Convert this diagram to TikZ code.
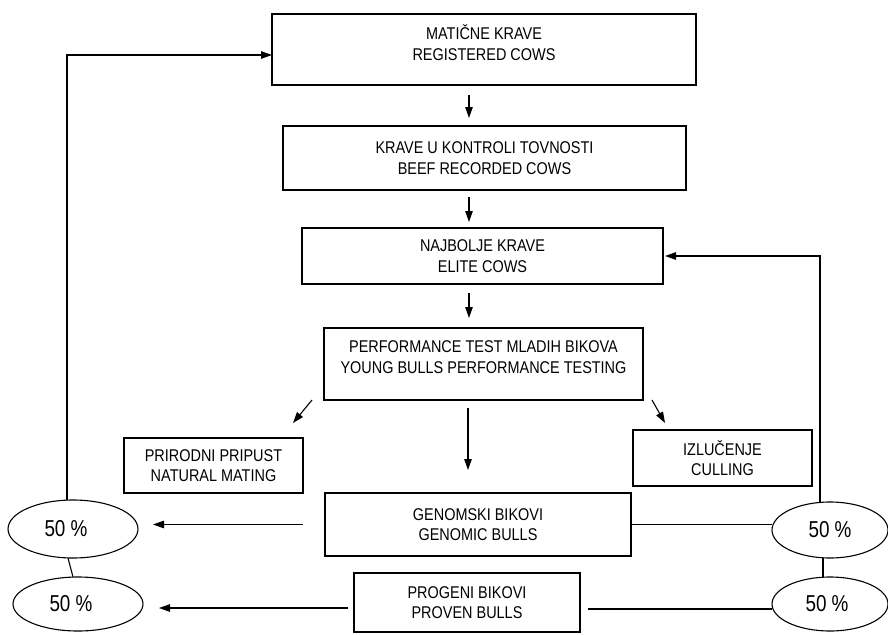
\documentclass[tikz,border=0pt]{standalone}
\usepackage{fontspec}
\setmainfont{Liberation Sans}[FakeStretch=0.85]
\newfontfamily\pctfont{Liberation Sans}[FakeStretch=0.82]
\usetikzlibrary{shapes.geometric,arrows.meta}
\begin{document}
\begin{tikzpicture}[x=1pt,y=-1pt,
  every node/.style={inner sep=0pt, outer sep=0pt},
  box/.style={draw, line width=1.1pt, align=center,
    font=\fontsize{17}{20.5}\selectfont},
  boxtext/.style={align=center, font=\fontsize{17}{20.5}\selectfont},
  share/.style={draw, ellipse, line width=1.1pt,
    font=\pctfont\fontsize{23}{26}\selectfont},
  link/.style={line width=1.1pt},
  arr/.style={line width=1.1pt, -{Triangle[length=11pt,width=7.5pt]}}]
\useasboundingbox (0,0) rectangle (888,634);

% main chain of boxes
\node[box, minimum width=424, minimum height=71] (b1) at (484,49.5) {};
\node[boxtext] (b1t) at (484,42.5) {MATIČNE KRAVE\\REGISTERED COWS};
\node[box, minimum width=403, minimum height=64] (b2) at (484.5,158) {KRAVE U KONTROLI TOVNOSTI\\BEEF RECORDED COWS};
\node[box, minimum width=361, minimum height=56] (b3) at (482.5,256) {NAJBOLJE KRAVE\\ELITE COWS};
\node[box, minimum width=319, minimum height=72] (b4) at (483.5,364) {};
\node[boxtext] (b4t) at (483.5,357) {PERFORMANCE TEST MLADIH BIKOVA\\YOUNG BULLS PERFORMANCE TESTING};

% outcomes of the performance test
\node[box, minimum width=179, minimum height=55] (nat) at (213.5,465.5) {PRIRODNI PRIPUST\\NATURAL MATING};
\node[box, minimum width=179, minimum height=56] (cul) at (722.5,458) {IZLUČENJE\\CULLING};
\node[box, minimum width=306, minimum height=63] (gen) at (478,524.5) {GENOMSKI BIKOVI\\GENOMIC BULLS};
\node[box, minimum width=226, minimum height=59] (prov) at (467,602.5) {PROGENI BIKOVI\\PROVEN BULLS};

% shares
\node[share, minimum width=130, minimum height=58] (el1) at (73,529) {\hspace{-14pt}50 \%};
\node[share, minimum width=130, minimum height=54] (el2) at (78,604) {\hspace{-14pt}50 \%};
\node[share, minimum width=116, minimum height=56] (er1) at (830,530) {50 \%};
\node[share, minimum width=116, minimum height=54] (er2) at (830,604) {\hspace{-6pt}50 \%};

% column of the downward arrows
\coordinate (col) at (469,0);
\coordinate (colb) at (468,0);
\draw[arr, shorten <=10pt, shorten >=8pt] (b1.south -| col) -- (b2.north -| col);
\draw[arr, shorten <=7pt, shorten >=6pt] (b2.south -| col) -- (b3.north -| col);
\draw[arr, shorten <=9pt, shorten >=10pt] (b3.south -| col) -- (b4.north -| col);
\draw[arr, shorten <=8pt, shorten >=23pt] (b4.south -| colb) -- (gen.north -| colb);

% side branches
\coordinate (dl1) at (312,400);
\coordinate (dl2) at (293,423);
\coordinate (dr1) at (652,400);
\coordinate (dr2) at (665,423);
\draw[arr] (dl1) -- (dl2);
\draw[arr] (dr1) -- (dr2);

% bulls to the shares
\draw[arr, shorten <=22pt, shorten >=15pt] (gen.west) -- (gen.west -| el1.east);
\draw[arr, shorten <=6pt, shorten >=16pt] ([yshift=-5.5pt]prov.west) -- ([yshift=-5.5pt]prov.west -| el2.east);
\draw[link, shorten <=-1pt] (gen.east) -- (gen.east -| er1.west);
\draw[link, shorten <=8pt] ([yshift=-6.5pt]prov.east) -- ([yshift=-6.5pt]prov.east -| er2.west);

% pairs of shares
\draw[link] ([xshift=-5pt]el1.south) -- ([xshift=-5pt]el2.north);
\draw[link] ([xshift=-7pt]er1.south) -- ([xshift=-7pt]er2.north);

% feedback loops
\draw[arr, shorten >=2pt] ([xshift=-10pt]er1.north) |- (b3.east);
\draw[arr] ([xshift=-6pt]el1.north) |- ([yshift=-5.5pt]b1.west);
\end{tikzpicture}
\end{document}
